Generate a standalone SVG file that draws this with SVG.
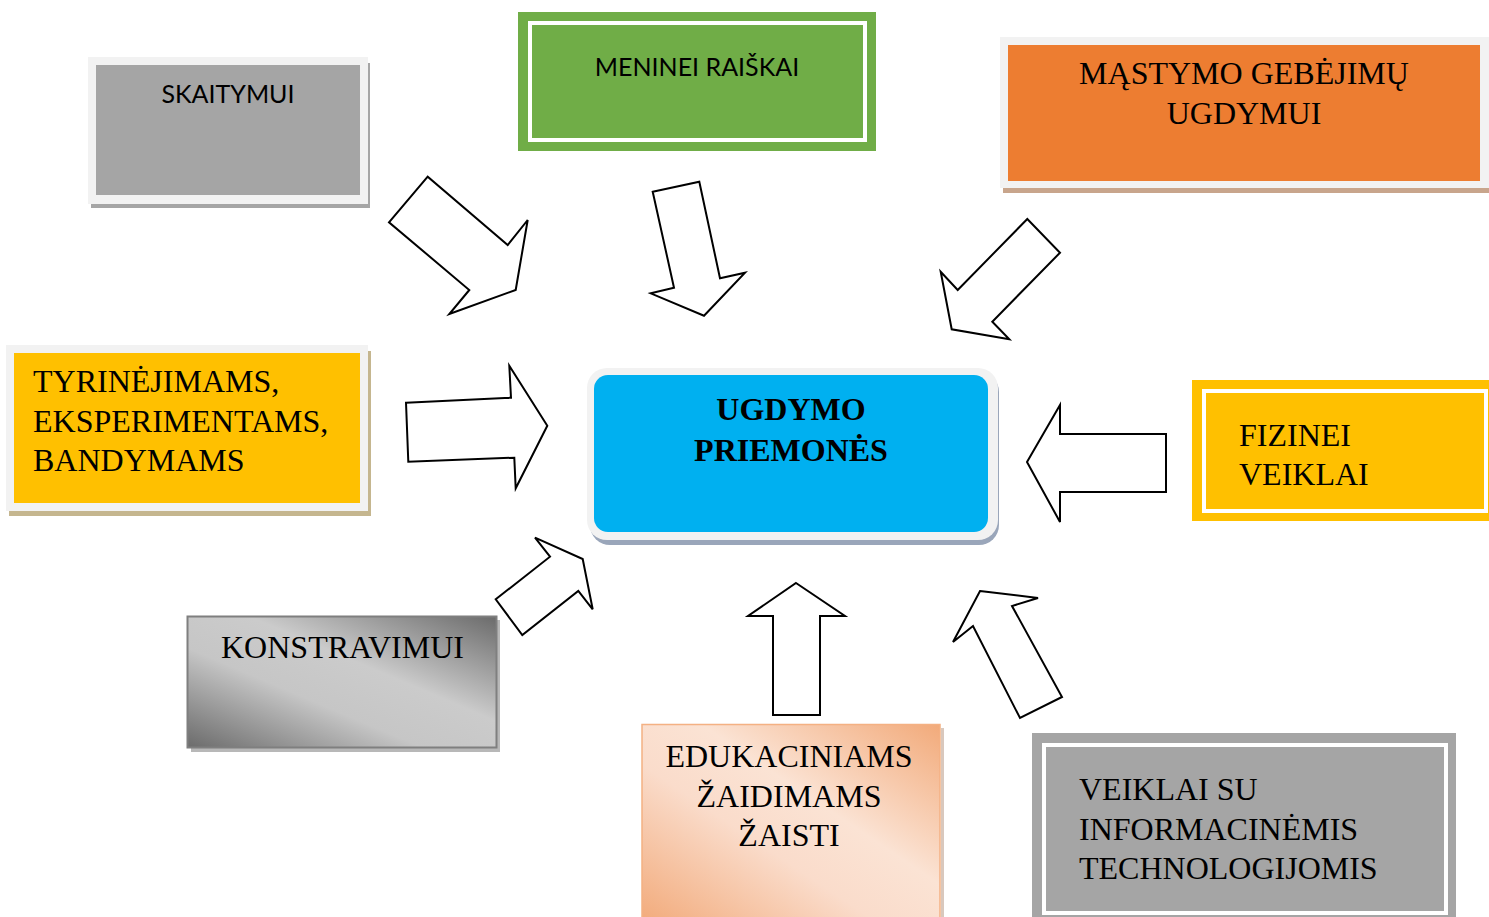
<svg xmlns="http://www.w3.org/2000/svg" width="1489" height="917" viewBox="0 0 1489 917">
<defs>
<style>
.serif{font-family:"Liberation Serif","Times New Roman",serif;font-size:32px;fill:#000}
.sans{font-family:Lato,"Open Sans","Liberation Sans",sans-serif;font-size:25px;fill:#000}
.bold{font-weight:bold}
.arrow{fill:#fff;stroke:#000;stroke-width:2;stroke-linejoin:miter}
.frame{fill:#f2f2f2}
</style>
<linearGradient id="gGray" x1="0" y1="1" x2="1" y2="0">
<stop offset="0" stop-color="#6b6b6b"/>
<stop offset="0.38" stop-color="#c6c6c6"/>
<stop offset="0.6" stop-color="#cbcbcb"/>
<stop offset="1" stop-color="#6b6b6b"/>
</linearGradient>
<linearGradient id="gPeach" x1="0" y1="1" x2="1" y2="0">
<stop offset="0" stop-color="#f2aa7a"/>
<stop offset="0.4" stop-color="#fadccb"/>
<stop offset="0.6" stop-color="#fbe3d4"/>
<stop offset="1" stop-color="#f2aa7a"/>
</linearGradient>
</defs>
<rect width="1489" height="917" fill="#fff"/>

<g id="connectors">
<polygon class="arrow" points="427.7,176.7 389,222.3 469.3,290 449.3,314 515.7,290 527.7,220 507.7,245"/>
<polygon class="arrow" points="652.7,191.7 699.3,181.7 720,278.3 745,272.7 704,315.7 650.7,293.3 674,287.7"/>
<polygon class="arrow" points="1027.3,219 1060,252.7 992.3,321.7 1009.3,339.3 951.7,329.3 940.7,271.7 957.7,290"/>
<polygon class="arrow" points="406,402.7 511,397.7 509.3,365.7 547.3,425.7 515.7,488.3 514.3,457.7 408.3,461.7"/>
<polygon class="arrow" points="495.7,599.3 550,556.7 535,537.7 582.7,559 592.7,609.3 578.3,591 522.3,635"/>
<polygon class="arrow" points="1027,462 1060,405 1060,434 1166,434 1166,492 1060,492 1060,522"/>
<polygon class="arrow" points="796,583 845,616 820,616 820,715 773,715 773,616 748,616"/>
<polygon class="arrow" points="980,591 1038,598 1012,606 1062,697 1020,718 973,626 953,642"/>
</g>

<g id="skaitymui">
<rect x="91" y="63" width="279" height="145" fill="#a6a6a6"/>
<rect class="frame" x="88" y="57" width="280" height="147"/>
<rect x="96" y="65" width="264" height="130" fill="#a5a5a5"/>
<text class="sans" x="228" y="103" text-anchor="middle">SKAITYMUI</text>
</g>

<g id="meninei">
<rect x="518" y="12" width="358" height="139" fill="#70ad47"/>
<rect x="530" y="23" width="335" height="117" fill="none" stroke="#fff" stroke-width="4"/>
<text class="sans" x="697" y="76" text-anchor="middle">MENINEI RAIŠKAI</text>
</g>

<g id="mastymo">
<rect x="1003" y="44" width="486" height="149" fill="#c8a58c"/>
<rect class="frame" x="1000" y="37" width="489" height="151"/>
<rect x="1008" y="45" width="472" height="136" fill="#ed7d31"/>
<text class="serif" x="1244" y="84" text-anchor="middle">MĄSTYMO GEBĖJIMŲ</text>
<text class="serif" x="1244" y="124" text-anchor="middle">UGDYMUI</text>
</g>

<g id="tyrinejimams">
<rect x="9" y="351" width="362" height="165" fill="#c5b68f"/>
<rect class="frame" x="6" y="345" width="362" height="166"/>
<rect x="14" y="353" width="346" height="150" fill="#ffc000"/>
<text class="serif" x="33" y="392">TYRINĖJIMAMS,</text>
<text class="serif" x="33" y="432">EKSPERIMENTAMS,</text>
<text class="serif" x="33" y="471">BANDYMAMS</text>
</g>

<g id="ugdymo">
<rect x="590" y="372" width="409" height="173" rx="20" fill="#9aa6ba"/>
<rect class="frame" x="587" y="368" width="411" height="172" rx="20"/>
<rect x="594" y="375" width="394" height="157" rx="14" fill="#00b0f0"/>
<text class="serif bold" x="791" y="420" text-anchor="middle">UGDYMO</text>
<text class="serif bold" x="791" y="461" text-anchor="middle">PRIEMONĖS</text>
</g>

<g id="fizinei">
<rect x="1192" y="380" width="297" height="141" fill="#ffc000"/>
<rect x="1204" y="391" width="282" height="120" fill="none" stroke="#fff" stroke-width="4"/>
<text class="serif" x="1239" y="446">FIZINEI</text>
<text class="serif" x="1239" y="485">VEIKLAI</text>
</g>

<g id="konstravimui">
<rect x="191" y="620" width="309" height="132" fill="#b8b8b8"/>
<rect x="187.5" y="616.5" width="309" height="131" fill="url(#gGray)" stroke="#7f7f7f" stroke-width="2"/>
<text class="serif" x="342.5" y="658" text-anchor="middle">KONSTRAVIMUI</text>
</g>

<g id="edukaciniams">
<rect x="941" y="728" width="3" height="189" fill="#d9c8bd"/>
<rect x="642" y="724.5" width="298" height="200" fill="url(#gPeach)" stroke="#f4b183" stroke-width="1.5"/>
<text class="serif" x="789" y="767" text-anchor="middle">EDUKACINIAMS</text>
<text class="serif" x="789" y="807" text-anchor="middle">ŽAIDIMAMS</text>
<text class="serif" x="789" y="846" text-anchor="middle">ŽAISTI</text>
</g>

<g id="veiklai-it">
<rect x="1032" y="733" width="424" height="190" fill="#a5a5a5"/>
<rect x="1044" y="745" width="402" height="168" fill="none" stroke="#fff" stroke-width="4"/>
<text class="serif" x="1079" y="800">VEIKLAI SU</text>
<text class="serif" x="1079" y="840">INFORMACINĖMIS</text>
<text class="serif" x="1079" y="879">TECHNOLOGIJOMIS</text>
</g>
</svg>
